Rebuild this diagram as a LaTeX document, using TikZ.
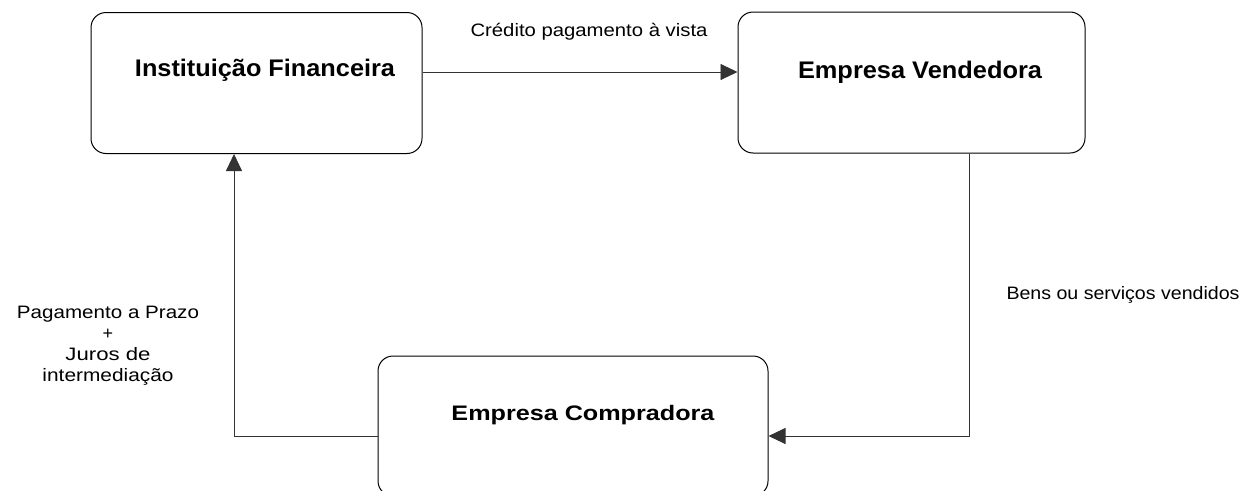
\documentclass[tikz,border=0pt]{standalone}
\usepackage{fontspec}
\setmainfont{Liberation Sans}
\usepackage{graphicx}
\usetikzlibrary{arrows.meta}
\newcommand\sqz[2]{\resizebox{#1}{\height}{#2}}
\tikzset{
  box/.style={draw=black, line width=1pt, rounded corners=15pt, inner sep=0pt},
  boxtext/.style={inner sep=0pt, font=\fontsize{24}{28}\selectfont\bfseries},
  lbl/.style={inner sep=0pt, font=\fontsize{18}{21}\selectfont, align=center},
  arr/.style={draw=black!80, line width=0.9pt, -{Triangle[length=17pt,width=16pt]}},
}
\begin{document}
\begin{tikzpicture}[x=1pt,y=-1pt]
\useasboundingbox (0,0) rectangle (1252,490);
\clip (0,0) rectangle (1252,490);
\node[box, minimum width=331pt, minimum height=141pt] (b1) at (256.5,83) {};
\node[box, minimum width=347pt, minimum height=141pt] (b2) at (911.5,82.5) {};
\node[box, minimum width=390pt, minimum height=140pt] (b3) at (573,426) {};
\node[boxtext] (t1) at (265,70) {\sqz{260pt}{Instituição Financeira}};
\node[boxtext] (t2) at (920,72) {\sqz{244pt}{Empresa Vendedora}};
\node[boxtext, font=\fontsize{21}{25}\selectfont\bfseries] (t3) at (583,415) {\sqz{263pt}{Empresa Compradora}};
\node[lbl] (l1) at (589,32) {\sqz{237pt}{Crédito pagamento à vista}};
\node[lbl] (l2) at (1123,295) {\sqz{233pt}{Bens ou serviços vendidos}};
\node[lbl] (l3) at (108,346) {\sqz{182pt}{Pagamento a Prazo}\\+\\\sqz{85pt}{Juros de}\\\sqz{131pt}{intermediação}};
\coordinate (ya) at (0,72);
\coordinate (yb) at (0,436);
\coordinate (xb) at (969,0);
\coordinate (xc) at (234,0);
\draw[arr] (b1.east |- ya) -- (b2.west |- ya);
\draw[arr] (b2.south -| xb) |- (b3.east |- yb);
\draw[arr] (b3.west |- yb) -| (b1.south -| xc);
\end{tikzpicture}
\end{document}
